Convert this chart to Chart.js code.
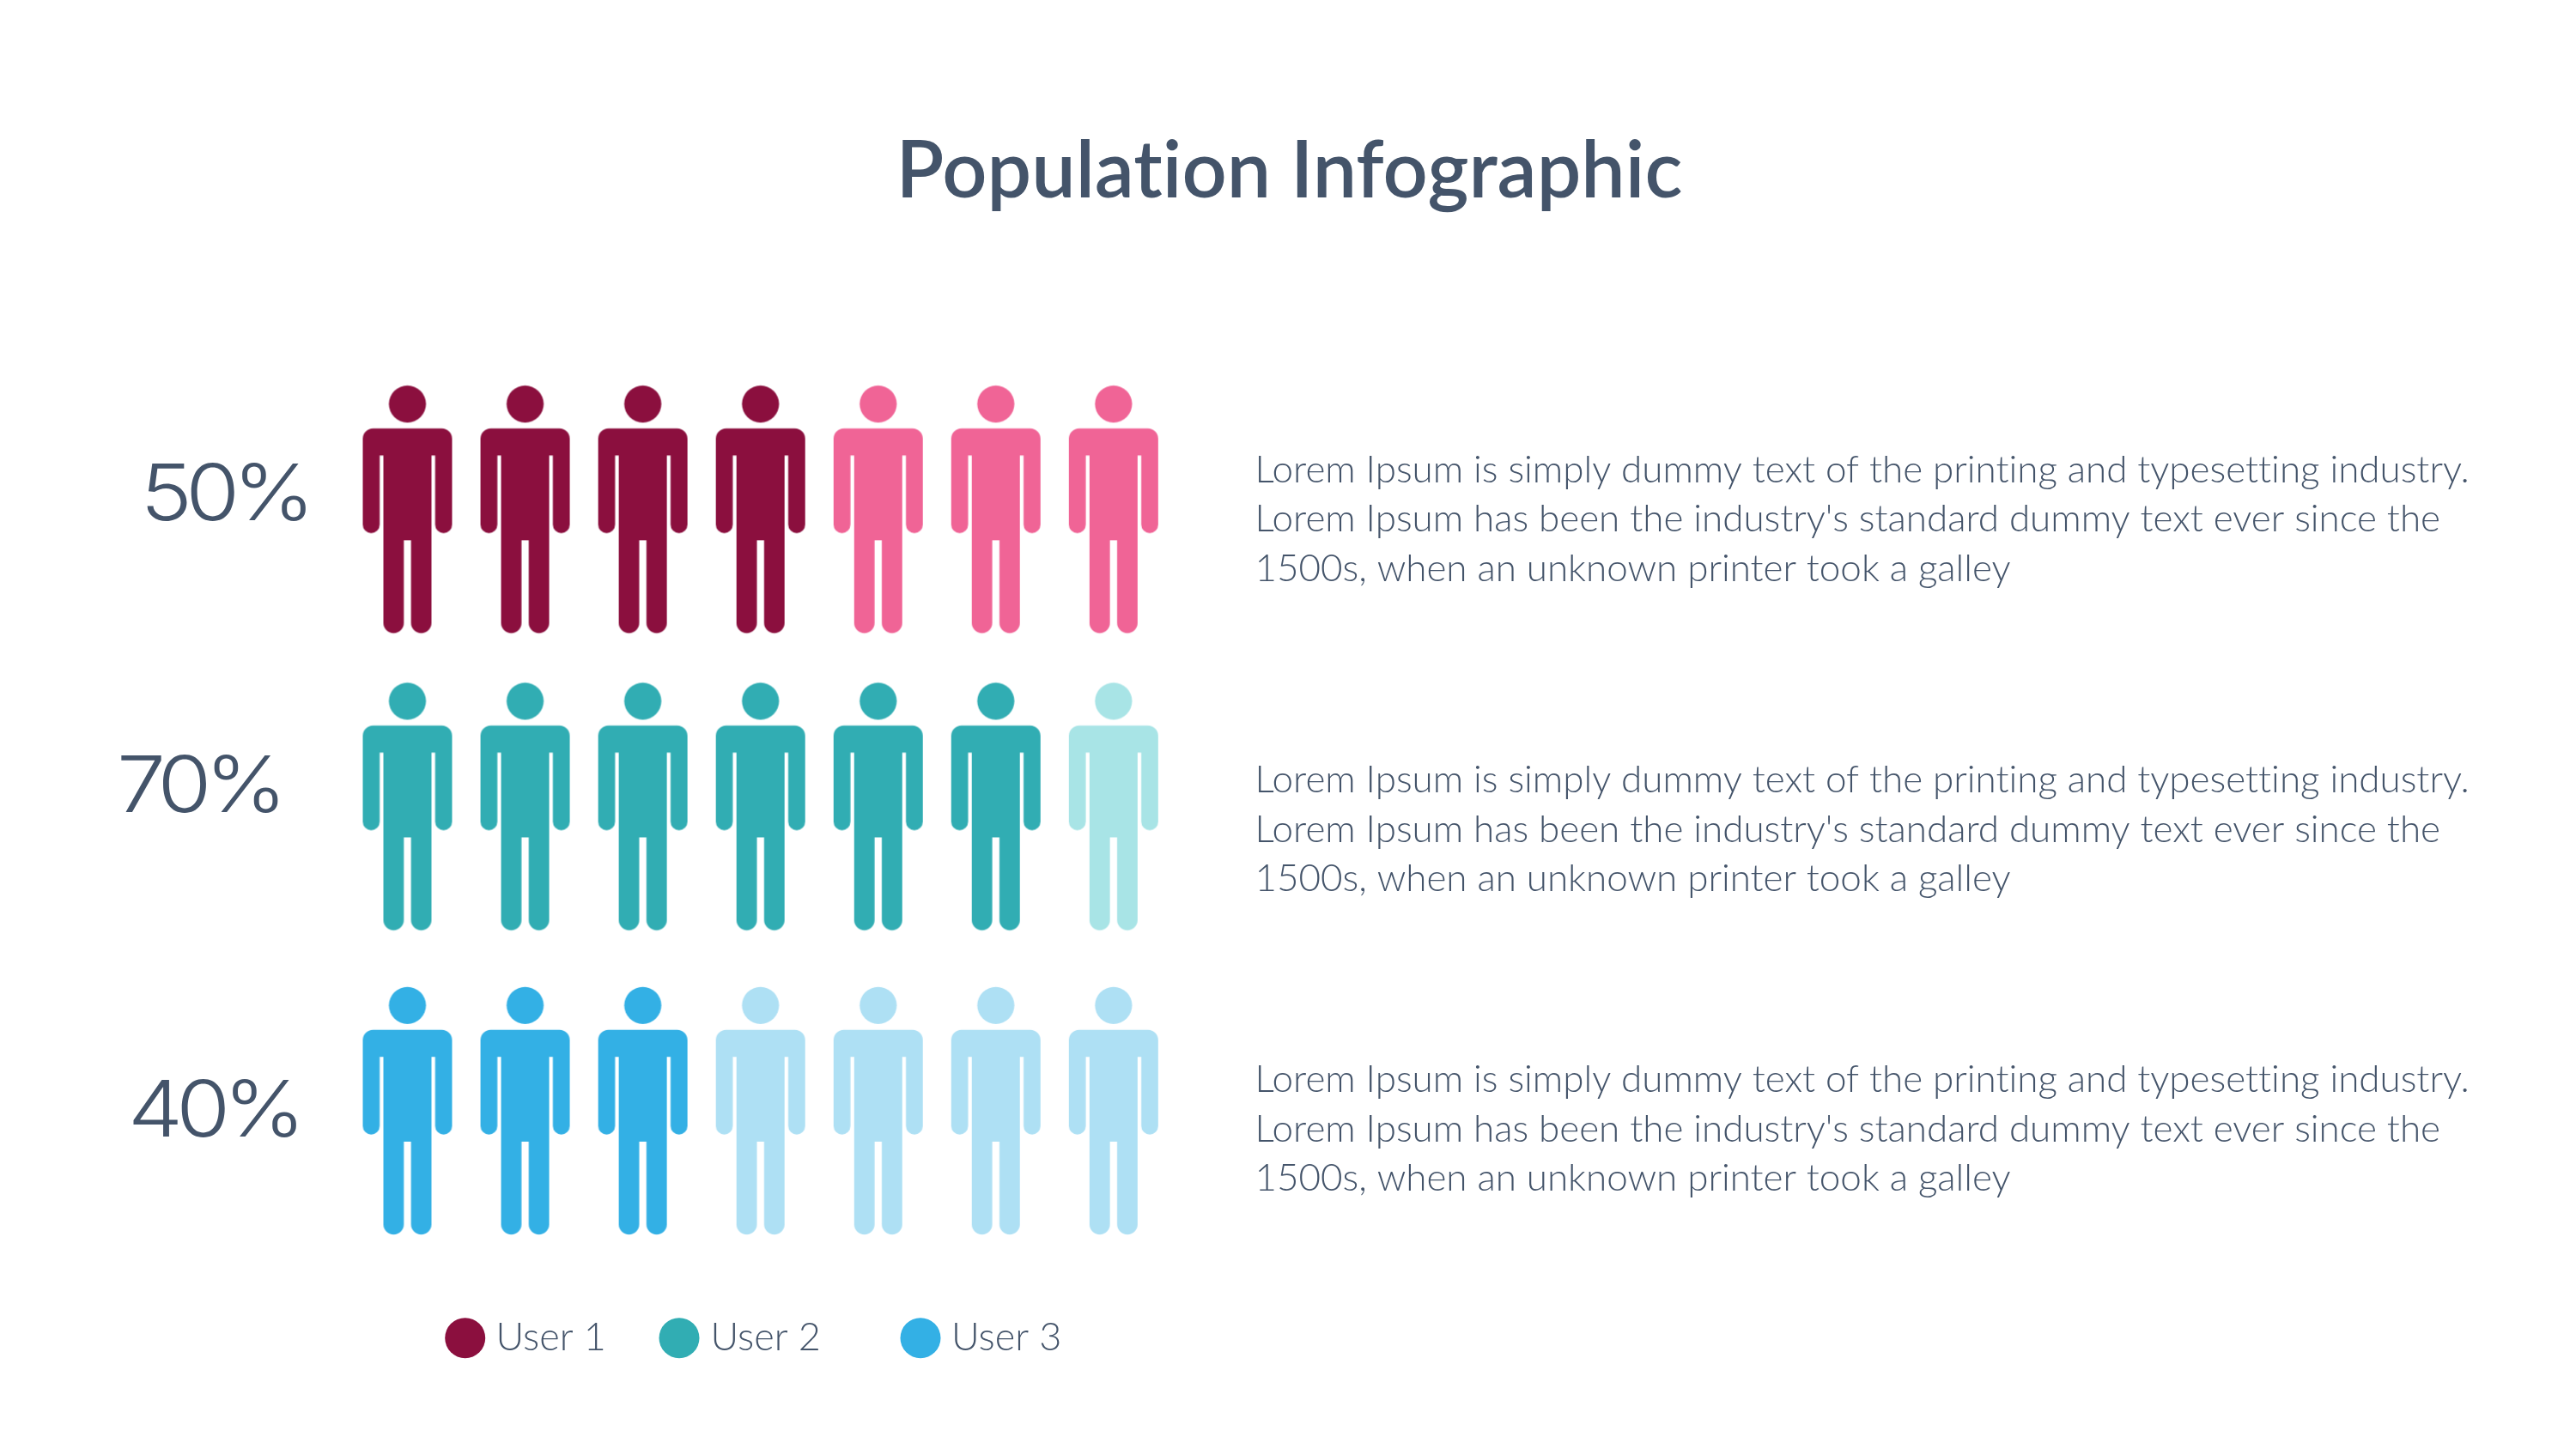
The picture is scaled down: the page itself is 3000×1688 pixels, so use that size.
<!DOCTYPE html>
<html><head><meta charset="utf-8">
<style>html,body{margin:0;padding:0;background:#fff;width:3000px;height:1688px;overflow:hidden}canvas{display:block}</style>
<script src="https://cdn.jsdelivr.net/npm/chart.js@4"></script>
</head><body><canvas id="c" width="3000" height="1688"></canvas>
<script>
// ---- data ----
const titleText = 'Population Infographic';
const seriesNames = ['User 1','User 2','User 3'];
const percentLabels = ['50%','70%','40%'];
const filledCounts = [4,6,3];
const iconCount = [7,7,7];
const fullColors = ['#8B0F3E','#31ADB3','#33B0E5'];
const paleColors = ['#F06496','#A8E4E6','#AEE0F4'];
const bodyLines = [
 'Lorem Ipsum is simply dummy text of the printing and typesetting industry.',
 "Lorem Ipsum has been the industry's standard dummy text ever since the",
 '1500s, when an unknown printer took a galley'];
// ---- layout (pixels) ----
const W=3000,H=1688;
const colStart=474.5,colStep=137.05;
const rowCentres=[593.35,939.5,1293.9];
const pctLeft=[167.5,140,153], pctBase=[605.7,945.5,1324];
const bodyX=1461.5, bodyBase=[561.7,923,1272], bodyLead=57.6;
const legendDot=[541.7,791,1072], legendText=[577.5,827.5,1108], legendY=1558.7, legendBase=1572.7;
const ink='#44546A';

function personIcon(color){
  const c=document.createElement('canvas');c.width=112;c.height=296;
  const g=c.getContext('2d');g.translate(56,148-144.35);g.fillStyle=color;
  g.beginPath();g.arc(0,21.7,21.6,0,Math.PI*2);g.fill();
  g.beginPath();
  g.moveTo(-40,50);g.lineTo(40,50);g.arcTo(52,50,52,62,12);
  g.lineTo(52,162.2);g.arc(42.15,162.2,9.85,0,Math.PI);
  g.lineTo(32.3,81.7);g.lineTo(28,81.7);
  g.lineTo(28,276.7);g.arc(16.1,276.7,11.9,0,Math.PI);
  g.lineTo(4.2,180.3);g.lineTo(-4.2,180.3);
  g.lineTo(-4.2,276.7);g.arc(-16.1,276.7,11.9,0,Math.PI);
  g.lineTo(-28,81.7);g.lineTo(-32.3,81.7);
  g.lineTo(-32.3,162.2);g.arc(-42.15,162.2,9.85,0,Math.PI);
  g.lineTo(-52,62);g.arcTo(-52,50,-40,50,12);g.closePath();g.fill();
  return c;
}
const datasets=[],scales={
  x:{type:'linear',bounds:'data',display:false,min:-colStart/colStep,max:(W-colStart)/colStep}
};
rowCentres.forEach((cy,r)=>{
  const id='y'+r;
  scales[id]={type:'linear',axis:'y',bounds:'data',display:false,min:-(H-cy)/colStep,max:cy/colStep};
  const full=[],pale=[];
  for(let i=0;i<iconCount[r];i++)(i<filledCounts[r]?full:pale).push({x:i,y:0});
  datasets.push({label:seriesNames[r],data:full,yAxisID:id,pointStyle:personIcon(fullColors[r]),backgroundColor:fullColors[r],clip:false});
  datasets.push({label:seriesNames[r]+' (rest)',data:pale,yAxisID:id,pointStyle:personIcon(paleColors[r]),backgroundColor:paleColors[r],clip:false});
});
const textPlugin={id:'texts',afterDatasetsDraw(ch){
  const g=ch.ctx;g.save();g.textBaseline='alphabetic';g.fillStyle=ink;
  g.textAlign='center';g.letterSpacing='0.01px';g.font='600 91.6px Lato';g.fillText(titleText,1501.5,230);
  g.font='300 91px Inter';g.letterSpacing='-7px';g.textAlign='left';
  percentLabels.forEach((t,i)=>{g.save();g.translate(pctLeft[i]-4,pctBase[i]);g.scale(1.12,1);g.fillText(t,0,0);g.restore();});
  g.letterSpacing='-0.03px';
  g.textAlign='left';g.font='300 44px Lato';
  bodyBase.forEach(b=>bodyLines.forEach((t,i)=>g.fillText(t,bodyX,b+i*bodyLead)));
  g.letterSpacing='0.01px';g.font='300 45px Lato';
  seriesNames.forEach((t,i)=>{
    g.fillStyle=fullColors[i];g.beginPath();g.arc(legendDot[i],legendY,23.5,0,Math.PI*2);g.fill();
    g.fillStyle=ink;g.fillText(t,legendText[i],legendBase);
  });
  g.restore();
}};
new Chart(document.getElementById('c'),{type:'scatter',data:{datasets},
 options:{responsive:false,animation:false,layout:{padding:0,autoPadding:false},events:[],
  elements:{point:{radius:50,borderWidth:0}},
  scales,plugins:{legend:{display:false},title:{display:false},tooltip:{enabled:false}}},
 plugins:[textPlugin]});
</script></body></html>
